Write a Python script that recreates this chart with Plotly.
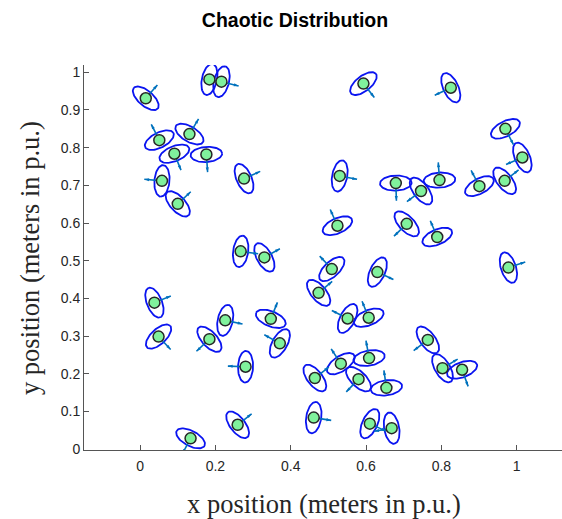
import numpy as np
import plotly.graph_objects as go

# ---- data ----
x_pos = [0.015, 0.184, 0.216, 0.051, 0.131, 0.091, 0.176, 0.058, 0.100, 0.276,
         0.267, 0.330, 0.593, 0.825, 0.970, 1.015, 0.530, 0.679, 0.746, 0.795,
         0.901, 0.968, 0.524, 0.708, 0.789, 0.038, 0.049, 0.184, 0.226, 0.280,
         0.134, 0.259, 0.347, 0.371, 0.509, 0.474, 0.630, 0.978, 0.551, 0.607,
         0.764, 0.608, 0.533, 0.464, 0.580, 0.654, 0.803, 0.855, 0.461, 0.610,
         0.668]
y_pos = [0.931, 0.981, 0.975, 0.820, 0.836, 0.784, 0.782, 0.712, 0.651, 0.718,
         0.525, 0.509, 0.970, 0.959, 0.850, 0.774, 0.725, 0.706, 0.685, 0.714,
         0.698, 0.712, 0.593, 0.598, 0.563, 0.389, 0.299, 0.292, 0.342, 0.219,
         0.029, 0.065, 0.346, 0.281, 0.478, 0.415, 0.470, 0.482, 0.347, 0.349,
         0.290, 0.242, 0.227, 0.189, 0.186, 0.163, 0.215, 0.211, 0.084, 0.068,
         0.056]
heading_deg = [49, -12, -14, 117, 59, -68, -86, 175, 43, 24,
               -8, 29, -52, 205, -63, 203, -11, -88, 217, 94,
               118, 38, 114, 224, 113, 22, -47, 223, -12, 178,
               242, 38, 68, 151, 133, 40, -25, 18, 153, 112,
               217, 100, 123, 38, 226, 98, 31, -70, -9, -25,
               190]
ellipse_deg = [139, 78, 76, 27, 149, 22, 4, 265, 133, 114,
               82, 119, 38, 295, 27, 293, 79, 2, 307, 184,
               208, 128, 204, 314, 203, 112, 43, 313, 78, 268,
               332, 128, 158, 241, 223, 130, 65, 108, 243, 202,
               307, 190, 213, 128, 316, 188, 121, 20, 81, 65,
               280]
x_ticks = [0, 0.2, 0.4, 0.6, 0.8, 1]
x_tick_labels = ["0", "0.2", "0.4", "0.6", "0.8", "1"]
y_ticks = [0, 0.1, 0.2, 0.3, 0.4, 0.5, 0.6, 0.7, 0.8, 0.9, 1]
y_tick_labels = ["0", "0.1", "0.2", "0.3", "0.4", "0.5", "0.6", "0.7", "0.8", "0.9", "1"]

# ---- geometry / style constants ----
ELL_A = 0.042   # semi-major (data units)
ELL_B = 0.020   # semi-minor
ARROW_LEN = 0.047

W, H = 562, 519
ML, MR, MT, MB = 84, 0, 65, 69
XR = [-0.149, 1.1203]
YR = [-0.0019, 1.0193]

t = np.linspace(0, 2 * np.pi, 73)
ex, ey = [], []
for cx, cy, ang in zip(x_pos, y_pos, ellipse_deg):
    a = np.deg2rad(ang)
    px = cx + ELL_A * np.cos(t) * np.cos(a) - ELL_B * np.sin(t) * np.sin(a)
    py = cy + ELL_A * np.cos(t) * np.sin(a) + ELL_B * np.sin(t) * np.cos(a)
    ex += list(px) + [None]
    ey += list(py) + [None]

sx, sy, tx, ty, tang = [], [], [], [], []
for cx, cy, h in zip(x_pos, y_pos, heading_deg):
    r = np.deg2rad(h)
    ex_t = cx + ARROW_LEN * np.cos(r)
    ey_t = cy + ARROW_LEN * np.sin(r)
    sx += [cx, ex_t, None]
    sy += [cy, ey_t, None]
    tx.append(ex_t)
    ty.append(ey_t)
    tang.append(90 - h)

fig = go.Figure()
fig.add_trace(go.Scatter(x=ex, y=ey, mode="lines",
                         line=dict(color="#0A14F0", width=1.8),
                         hoverinfo="skip", showlegend=False))
fig.add_trace(go.Scatter(x=sx, y=sy, mode="lines",
                         line=dict(color="#0072BD", width=1.6),
                         hoverinfo="skip", showlegend=False))
fig.add_trace(go.Scatter(x=tx, y=ty, mode="markers",
                         marker=dict(symbol="arrow", size=5, color="#0072BD",
                                     angle=tang, angleref="up",
                                     line=dict(width=0)),
                         hoverinfo="skip", showlegend=False))
fig.add_trace(go.Scatter(x=x_pos, y=y_pos, mode="markers",
                         marker=dict(size=11, color="#80F29C",
                                     line=dict(color="#262626", width=1.5)),
                         showlegend=False))

axis_common = dict(showgrid=False, zeroline=False, showline=True,
                   linecolor="#555555", linewidth=1, ticks="inside",
                   ticklen=5, tickcolor="#555555", tickwidth=1,
                   tickfont=dict(family="Liberation Sans, Arial", size=14, color="#262626"))
fig.update_xaxes(range=XR, tickvals=x_ticks, ticktext=x_tick_labels,
                 ticklabelstandoff=3, **axis_common)
fig.update_yaxes(range=YR, tickvals=y_ticks, ticktext=y_tick_labels, **axis_common)

fig.update_layout(
    width=W, height=H,
    margin=dict(l=ML, r=MR, t=MT, b=MB),
    plot_bgcolor="white", paper_bgcolor="white",
    title=dict(text="<b>Chaotic Distribution</b>", x=295 / W, xref="container",
               xanchor="center", y=1 - 20 / H, yanchor="middle",
               font=dict(family="Liberation Sans, Arial", size=19.5, color="black")),
    annotations=[
        dict(text="x position (meters in p.u.)", xref="paper", yref="paper",
             x=(324 - ML) / (W - ML - MR), y=-(504 - (H - MB)) / (H - MT - MB),
             xanchor="center", yanchor="middle", showarrow=False,
             font=dict(family="Liberation Serif, Times New Roman", size=26.5, color="#262626")),
        dict(text="y position (meters in p.u.)", xref="paper", yref="paper",
             x=-(ML - 30) / (W - ML - MR), y=((H - MB) - 258) / (H - MT - MB),
             xanchor="center", yanchor="middle", showarrow=False, textangle=-90,
             font=dict(family="Liberation Serif, Times New Roman", size=26.5, color="#262626")),
    ],
)
fig.write_html("out.html")
